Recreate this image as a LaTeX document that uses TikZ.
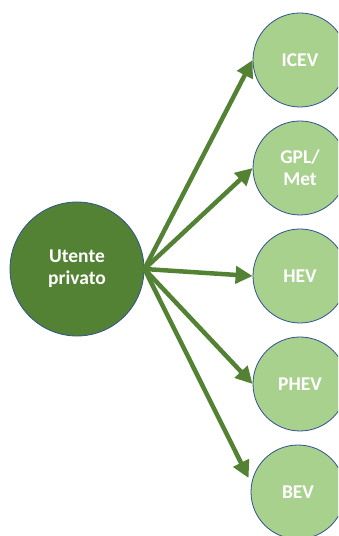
\documentclass[tikz,border=0pt]{standalone}
\usepackage{fontspec}
\setmainfont{Carlito}
\usetikzlibrary{arrows.meta}
\definecolor{dkgreen}{HTML}{548235}
\definecolor{ltgreen}{HTML}{A9D18E}
\definecolor{rimblue}{HTML}{2F528F}
\begin{document}
\begin{tikzpicture}[x=1pt,y=1pt,
  bigcirc/.style={circle,fill=dkgreen,draw=rimblue,line width=0.8pt,minimum size=134pt,inner sep=0pt,text=white,font=\fontsize{19.5}{22}\selectfont\bfseries,align=center},
  smallcirc/.style={circle,fill=ltgreen,draw=rimblue,line width=0.8pt,minimum size=94pt,inner sep=0pt,text=white,font=\fontsize{19.5}{22}\selectfont\bfseries,align=center},
  link/.style={draw=dkgreen,line width=4.5pt,-{Triangle[length=17pt,width=17pt]},shorten <=-1pt}]
\useasboundingbox (0,0) rectangle (338,536);
\clip (0,0) rectangle (338,536);
\node[bigcirc] (u) at (77,267) {Utente\\privato};
\node[smallcirc] (icev) at (300,476) {ICEV};
\node[smallcirc] (gpl) at (300,368) {GPL/\\Met};
\node[smallcirc] (hev) at (300,260) {HEV};
\node[smallcirc] (phev) at (300,152) {PHEV};
\node[smallcirc] (bev) at (298,44) {BEV};
\draw[link] (u.east) -- (icev.west);
\draw[link] (u.east) -- (gpl.west);
\draw[link] (u.east) -- (hev.west);
\draw[link] (u.east) -- (phev.west);
\draw[link] (u.east) -- ([shift={(-2pt,14pt)}]bev.west);
\end{tikzpicture}
\end{document}
